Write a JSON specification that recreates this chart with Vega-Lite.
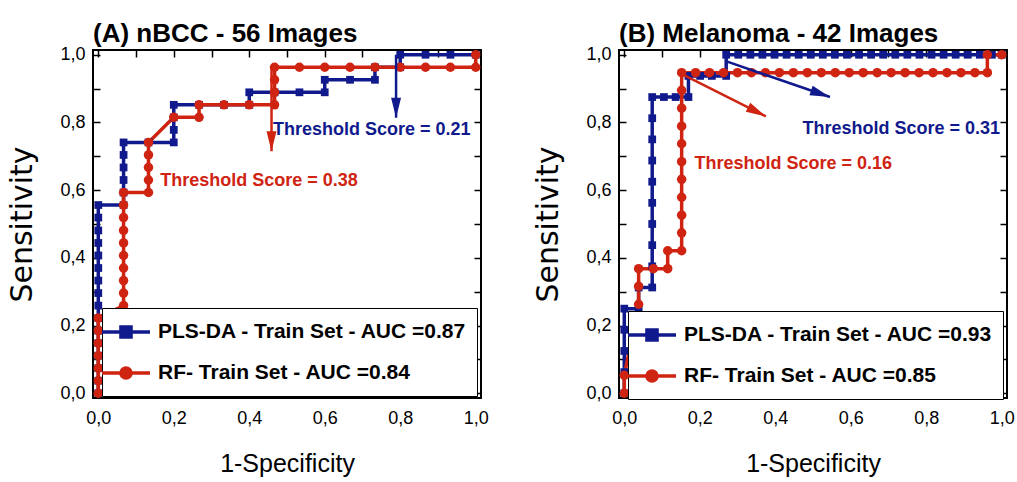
{
  "$schema": "https://vega.github.io/schema/vega-lite/v6.json",
  "padding": {"left": 6, "top": 19, "right": 5, "bottom": 0},
  "datasets": {
    "rocA": [
      {"s":"PLS-DA","i":0,"x":0,"y":0},{"s":"PLS-DA","i":1,"x":0,"y":0.037},{"s":"PLS-DA","i":2,"x":0,"y":0.074},{"s":"PLS-DA","i":3,"x":0,"y":0.111},{"s":"PLS-DA","i":4,"x":0,"y":0.148},{"s":"PLS-DA","i":5,"x":0,"y":0.185},{"s":"PLS-DA","i":6,"x":0,"y":0.222},{"s":"PLS-DA","i":7,"x":0,"y":0.259},{"s":"PLS-DA","i":8,"x":0,"y":0.296},{"s":"PLS-DA","i":9,"x":0,"y":0.333},{"s":"PLS-DA","i":10,"x":0,"y":0.37},{"s":"PLS-DA","i":11,"x":0,"y":0.407},{"s":"PLS-DA","i":12,"x":0,"y":0.444},{"s":"PLS-DA","i":13,"x":0,"y":0.481},{"s":"PLS-DA","i":14,"x":0,"y":0.519},{"s":"PLS-DA","i":15,"x":0,"y":0.556},{"s":"PLS-DA","i":16,"x":0.067,"y":0.556},{"s":"PLS-DA","i":17,"x":0.067,"y":0.593},{"s":"PLS-DA","i":18,"x":0.067,"y":0.63},{"s":"PLS-DA","i":19,"x":0.067,"y":0.667},{"s":"PLS-DA","i":20,"x":0.067,"y":0.704},{"s":"PLS-DA","i":21,"x":0.067,"y":0.741},{"s":"PLS-DA","i":22,"x":0.133,"y":0.741},{"s":"PLS-DA","i":23,"x":0.2,"y":0.741},{"s":"PLS-DA","i":24,"x":0.2,"y":0.778},{"s":"PLS-DA","i":25,"x":0.2,"y":0.815},{"s":"PLS-DA","i":26,"x":0.2,"y":0.852},{"s":"PLS-DA","i":27,"x":0.267,"y":0.852},{"s":"PLS-DA","i":28,"x":0.333,"y":0.852},{"s":"PLS-DA","i":29,"x":0.4,"y":0.852},{"s":"PLS-DA","i":30,"x":0.4,"y":0.889},{"s":"PLS-DA","i":31,"x":0.467,"y":0.889},{"s":"PLS-DA","i":32,"x":0.533,"y":0.889},{"s":"PLS-DA","i":33,"x":0.6,"y":0.889},{"s":"PLS-DA","i":34,"x":0.6,"y":0.926},{"s":"PLS-DA","i":35,"x":0.667,"y":0.926},{"s":"PLS-DA","i":36,"x":0.733,"y":0.926},{"s":"PLS-DA","i":37,"x":0.733,"y":0.963},{"s":"PLS-DA","i":38,"x":0.8,"y":0.963},{"s":"PLS-DA","i":39,"x":0.8,"y":1},{"s":"PLS-DA","i":40,"x":0.867,"y":1},{"s":"PLS-DA","i":41,"x":0.933,"y":1},{"s":"PLS-DA","i":42,"x":1,"y":1},
      {"s":"RF","i":0,"x":0,"y":0},{"s":"RF","i":1,"x":0,"y":0.037},{"s":"RF","i":2,"x":0,"y":0.074},{"s":"RF","i":3,"x":0,"y":0.111},{"s":"RF","i":4,"x":0,"y":0.148},{"s":"RF","i":5,"x":0,"y":0.185},{"s":"RF","i":6,"x":0,"y":0.222},{"s":"RF","i":7,"x":0.067,"y":0.259},{"s":"RF","i":8,"x":0.067,"y":0.296},{"s":"RF","i":9,"x":0.067,"y":0.333},{"s":"RF","i":10,"x":0.067,"y":0.37},{"s":"RF","i":11,"x":0.067,"y":0.407},{"s":"RF","i":12,"x":0.067,"y":0.444},{"s":"RF","i":13,"x":0.067,"y":0.481},{"s":"RF","i":14,"x":0.067,"y":0.519},{"s":"RF","i":15,"x":0.067,"y":0.556},{"s":"RF","i":16,"x":0.067,"y":0.593},{"s":"RF","i":17,"x":0.133,"y":0.593},{"s":"RF","i":18,"x":0.133,"y":0.63},{"s":"RF","i":19,"x":0.133,"y":0.667},{"s":"RF","i":20,"x":0.133,"y":0.704},{"s":"RF","i":21,"x":0.133,"y":0.741},{"s":"RF","i":22,"x":0.2,"y":0.815},{"s":"RF","i":23,"x":0.267,"y":0.815},{"s":"RF","i":24,"x":0.267,"y":0.852},{"s":"RF","i":25,"x":0.333,"y":0.852},{"s":"RF","i":26,"x":0.4,"y":0.852},{"s":"RF","i":27,"x":0.467,"y":0.852},{"s":"RF","i":28,"x":0.467,"y":0.889},{"s":"RF","i":29,"x":0.467,"y":0.926},{"s":"RF","i":30,"x":0.467,"y":0.963},{"s":"RF","i":31,"x":0.533,"y":0.963},{"s":"RF","i":32,"x":0.6,"y":0.963},{"s":"RF","i":33,"x":0.667,"y":0.963},{"s":"RF","i":34,"x":0.733,"y":0.963},{"s":"RF","i":35,"x":0.8,"y":0.963},{"s":"RF","i":36,"x":0.867,"y":0.963},{"s":"RF","i":37,"x":0.933,"y":0.963},{"s":"RF","i":38,"x":1,"y":0.963},{"s":"RF","i":39,"x":1,"y":1}
    ],
    "rocB": [
      {"s":"PLS-DA","i":0,"x":0,"y":0},{"s":"PLS-DA","i":1,"x":0,"y":0.0625},{"s":"PLS-DA","i":2,"x":0,"y":0.125},{"s":"PLS-DA","i":3,"x":0,"y":0.1875},{"s":"PLS-DA","i":4,"x":0,"y":0.25},{"s":"PLS-DA","i":5,"x":0.038,"y":0.25},{"s":"PLS-DA","i":6,"x":0.038,"y":0.3125},{"s":"PLS-DA","i":7,"x":0.074,"y":0.3125},{"s":"PLS-DA","i":8,"x":0.074,"y":0.375},{"s":"PLS-DA","i":9,"x":0.074,"y":0.4375},{"s":"PLS-DA","i":10,"x":0.074,"y":0.5},{"s":"PLS-DA","i":11,"x":0.074,"y":0.5625},{"s":"PLS-DA","i":12,"x":0.074,"y":0.625},{"s":"PLS-DA","i":13,"x":0.074,"y":0.6875},{"s":"PLS-DA","i":14,"x":0.074,"y":0.75},{"s":"PLS-DA","i":15,"x":0.074,"y":0.8125},{"s":"PLS-DA","i":16,"x":0.074,"y":0.875},{"s":"PLS-DA","i":17,"x":0.105,"y":0.875},{"s":"PLS-DA","i":18,"x":0.136,"y":0.875},{"s":"PLS-DA","i":19,"x":0.17,"y":0.875},{"s":"PLS-DA","i":20,"x":0.17,"y":0.9375},{"s":"PLS-DA","i":21,"x":0.201,"y":0.9375},{"s":"PLS-DA","i":22,"x":0.232,"y":0.9375},{"s":"PLS-DA","i":23,"x":0.27,"y":0.9375},{"s":"PLS-DA","i":24,"x":0.27,"y":1},{"s":"PLS-DA","i":25,"x":0.302,"y":1},{"s":"PLS-DA","i":26,"x":0.334,"y":1},{"s":"PLS-DA","i":27,"x":0.366,"y":1},{"s":"PLS-DA","i":28,"x":0.398,"y":1},{"s":"PLS-DA","i":29,"x":0.43,"y":1},{"s":"PLS-DA","i":30,"x":0.462,"y":1},{"s":"PLS-DA","i":31,"x":0.494,"y":1},{"s":"PLS-DA","i":32,"x":0.526,"y":1},{"s":"PLS-DA","i":33,"x":0.558,"y":1},{"s":"PLS-DA","i":34,"x":0.59,"y":1},{"s":"PLS-DA","i":35,"x":0.622,"y":1},{"s":"PLS-DA","i":36,"x":0.654,"y":1},{"s":"PLS-DA","i":37,"x":0.686,"y":1},{"s":"PLS-DA","i":38,"x":0.718,"y":1},{"s":"PLS-DA","i":39,"x":0.75,"y":1},{"s":"PLS-DA","i":40,"x":0.782,"y":1},{"s":"PLS-DA","i":41,"x":0.814,"y":1},{"s":"PLS-DA","i":42,"x":0.846,"y":1},{"s":"PLS-DA","i":43,"x":0.878,"y":1},{"s":"PLS-DA","i":44,"x":0.91,"y":1},{"s":"PLS-DA","i":45,"x":0.942,"y":1},{"s":"PLS-DA","i":46,"x":0.974,"y":1},{"s":"PLS-DA","i":47,"x":1,"y":1},
      {"s":"RF","i":0,"x":0,"y":0},{"s":"RF","i":1,"x":0,"y":0.053},{"s":"RF","i":2,"x":0.038,"y":0.263},{"s":"RF","i":3,"x":0.038,"y":0.316},{"s":"RF","i":4,"x":0.038,"y":0.368},{"s":"RF","i":5,"x":0.077,"y":0.368},{"s":"RF","i":6,"x":0.115,"y":0.368},{"s":"RF","i":7,"x":0.115,"y":0.421},{"s":"RF","i":8,"x":0.152,"y":0.421},{"s":"RF","i":9,"x":0.152,"y":0.474},{"s":"RF","i":10,"x":0.152,"y":0.526},{"s":"RF","i":11,"x":0.152,"y":0.579},{"s":"RF","i":12,"x":0.152,"y":0.632},{"s":"RF","i":13,"x":0.152,"y":0.684},{"s":"RF","i":14,"x":0.152,"y":0.737},{"s":"RF","i":15,"x":0.152,"y":0.789},{"s":"RF","i":16,"x":0.152,"y":0.842},{"s":"RF","i":17,"x":0.152,"y":0.895},{"s":"RF","i":18,"x":0.152,"y":0.947},{"s":"RF","i":19,"x":0.189,"y":0.947},{"s":"RF","i":20,"x":0.226,"y":0.947},{"s":"RF","i":21,"x":0.263,"y":0.947},{"s":"RF","i":22,"x":0.3,"y":0.947},{"s":"RF","i":23,"x":0.337,"y":0.947},{"s":"RF","i":24,"x":0.374,"y":0.947},{"s":"RF","i":25,"x":0.411,"y":0.947},{"s":"RF","i":26,"x":0.448,"y":0.947},{"s":"RF","i":27,"x":0.485,"y":0.947},{"s":"RF","i":28,"x":0.522,"y":0.947},{"s":"RF","i":29,"x":0.559,"y":0.947},{"s":"RF","i":30,"x":0.596,"y":0.947},{"s":"RF","i":31,"x":0.633,"y":0.947},{"s":"RF","i":32,"x":0.67,"y":0.947},{"s":"RF","i":33,"x":0.707,"y":0.947},{"s":"RF","i":34,"x":0.744,"y":0.947},{"s":"RF","i":35,"x":0.781,"y":0.947},{"s":"RF","i":36,"x":0.818,"y":0.947},{"s":"RF","i":37,"x":0.855,"y":0.947},{"s":"RF","i":38,"x":0.892,"y":0.947},{"s":"RF","i":39,"x":0.929,"y":0.947},{"s":"RF","i":40,"x":0.962,"y":0.947},{"s":"RF","i":41,"x":0.962,"y":1},{"s":"RF","i":42,"x":1,"y":1}
    ],
    "annA": [
      {"s":"PLS-DA","x":0.789,"y":1.0,"x2":0.789,"y2":0.814},
      {"s":"RF","x":0.459,"y":0.963,"x2":0.459,"y2":0.715}
    ],
    "annB": [
      {"s":"PLS-DA","x":0.269,"y":0.981,"x2":0.545,"y2":0.875},
      {"s":"RF","x":0.158,"y":0.94,"x2":0.375,"y2":0.818}
    ],
    "txtA": [
      {"s":"PLS-DA","x":0.463,"y":0.779,"t":"Threshold Score = 0.21"},
      {"s":"RF","x":0.164,"y":0.627,"t":"Threshold Score = 0.38"}
    ],
    "txtB": [
      {"s":"PLS-DA","x":0.472,"y":0.78,"t":"Threshold Score = 0.31"},
      {"s":"RF","x":0.186,"y":0.676,"t":"Threshold Score = 0.16"}
    ]
  },
  "bounds": "flush",
  "spacing": 138,
  "resolve": {"scale": {"color": "independent"}, "legend": {"color": "independent"}},
  "hconcat": [
    {
      "width": 388, "height": 348,
      "title": {"text": "(A) nBCC - 56 Images", "anchor": "start", "frame": "group", "font": "Liberation Sans, Arial, sans-serif", "fontSize": 26, "fontWeight": "bold", "color": "black", "baseline": "alphabetic", "offset": -22},
      "layer": [
        {
          "data": {"name": "rocA"},
          "mark": {"type": "line", "strokeWidth": 3.5},
          "encoding": {
            "x": {"field": "x", "type": "quantitative", "scale": {"domain": [-0.014, 1.014], "nice": false, "zero": false}, "axis": {"orient": "bottom", "title": "1-Specificity", "values": [0,0.1,0.2,0.3,0.4,0.5,0.6,0.7,0.8,0.9,1], "labelExpr": "round(datum.value*10) % 2 == 0 ? replace(format(datum.value, '.1f'), '.', ',') : ''", "encode": {"ticks": {"update": {"y2": [{"test": "round(datum.value*10) % 2 == 1", "value": -3.5}, {"value": -6.5}]}}}}},
            "y": {"field": "y", "type": "quantitative", "scale": {"domain": [-0.014, 1.014], "nice": false, "zero": false}, "axis": {"orient": "left", "title": "Sensitivity", "values": [0,0.1,0.2,0.3,0.4,0.5,0.6,0.7,0.8,0.9,1], "labelExpr": "round(datum.value*10) % 2 == 0 ? replace(format(datum.value, '.1f'), '.', ',') : ''", "encode": {"ticks": {"update": {"x2": [{"test": "round(datum.value*10) % 2 == 1", "value": 3.5}, {"value": 6.5}]}}}}},
            "color": {"field": "s", "type": "nominal", "scale": {"domain": ["PLS-DA", "RF"], "range": ["#101a8c", "#cf2412"]},
              "legend": {"orient": "none", "legendX": 9, "legendY": 258, "title": null,
                "labelExpr": "datum.value == 'PLS-DA' ? 'PLS-DA - Train Set - AUC =0.87' : 'RF- Train Set - AUC =0.84'",
                "fillColor": "white", "strokeColor": "black", "padding": 10, "symbolSize": 576, "symbolOffset": 0, "labelOffset": 18, "rowPadding": 14,
                "labelFont": "Liberation Sans, Arial, sans-serif", "labelFontSize": 21, "labelFontWeight": "bold", "labelColor": "black", "labelLimit": 500, "labelBaseline": "middle",
                "encode": {"symbols": {"update": {
                  "shape": [{"test": "datum.value == 'PLS-DA'", "value": "M-2,0H2M-0.42,-0.42H0.42V0.42H-0.42Z"}, {"value": "M-2,0H2M0.42,0A0.42,0.42,0,1,1,-0.42,0A0.42,0.42,0,1,1,0.42,0Z"}],
                  "fill": [{"test": "datum.value == 'PLS-DA'", "value": "#101a8c"}, {"value": "#cf2412"}],
                  "stroke": [{"test": "datum.value == 'PLS-DA'", "value": "#101a8c"}, {"value": "#cf2412"}],
                  "strokeWidth": {"value": 3.5}, "opacity": {"value": 1}, "fillOpacity": {"value": 1}, "strokeOpacity": {"value": 1}
                }}}
              }},
            "order": {"field": "i", "type": "quantitative"}
          }
        },
        {
          "data": {"name": "rocA"},
          "transform": [{"filter": "datum.s == 'PLS-DA'"}],
          "mark": {"type": "point", "shape": "square", "filled": true, "size": 60, "opacity": 1},
          "encoding": {
            "x": {"field": "x", "type": "quantitative", "scale": {"domain": [-0.014, 1.014], "nice": false, "zero": false}, "axis": {"orient": "top", "labels": false, "labelPadding": 0, "title": null, "values": [0,0.1,0.2,0.3,0.4,0.5,0.6,0.7,0.8,0.9,1], "encode": {"ticks": {"update": {"y2": [{"test": "round(datum.value*10) % 2 == 1", "value": 3.5}, {"value": 6.5}]}}}}},
            "y": {"field": "y", "type": "quantitative", "scale": {"domain": [-0.014, 1.014], "nice": false, "zero": false}, "axis": {"orient": "right", "labels": false, "labelPadding": 0, "title": null, "values": [0,0.1,0.2,0.3,0.4,0.5,0.6,0.7,0.8,0.9,1], "encode": {"ticks": {"update": {"x2": [{"test": "round(datum.value*10) % 2 == 1", "value": -3.5}, {"value": -6.5}]}}}}},
            "color": {"field": "s", "type": "nominal"}
          }
        },
        {
          "data": {"name": "rocA"},
          "transform": [{"filter": "datum.s == 'RF'"}],
          "mark": {"type": "point", "shape": "circle", "filled": true, "size": 90, "opacity": 1},
          "encoding": {
            "x": {"field": "x", "type": "quantitative", "scale": {"domain": [-0.014, 1.014], "nice": false, "zero": false}, "axis": null},
            "y": {"field": "y", "type": "quantitative", "scale": {"domain": [-0.014, 1.014], "nice": false, "zero": false}, "axis": null},
            "color": {"field": "s", "type": "nominal"}
          }
        },
        {
          "data": {"name": "annA"},
          "mark": {"type": "rule", "strokeWidth": 2.5},
          "encoding": {
            "x": {"field": "x", "type": "quantitative", "scale": {"domain": [-0.014, 1.014], "nice": false, "zero": false}, "axis": null},
            "y": {"field": "y", "type": "quantitative", "scale": {"domain": [-0.014, 1.014], "nice": false, "zero": false}, "axis": null},
            "x2": {"field": "x2"}, "y2": {"field": "y2"},
            "color": {"field": "s", "type": "nominal"}
          }
        },
        {
          "data": {"name": "annA"},
          "mark": {"type": "point", "shape": "M0,0L-2,-0.5L-2,0.5Z", "filled": true, "size": 400, "angle": 90, "opacity": 1},
          "encoding": {
            "x": {"field": "x2", "type": "quantitative", "scale": {"domain": [-0.014, 1.014], "nice": false, "zero": false}, "axis": null},
            "y": {"field": "y2", "type": "quantitative", "scale": {"domain": [-0.014, 1.014], "nice": false, "zero": false}, "axis": null},
            "color": {"field": "s", "type": "nominal"}
          }
        },
        {
          "data": {"name": "txtA"},
          "mark": {"type": "text", "align": "left", "baseline": "middle", "font": "Liberation Sans, Arial, sans-serif", "fontSize": 18, "fontWeight": "bold"},
          "encoding": {
            "x": {"field": "x", "type": "quantitative", "scale": {"domain": [-0.014, 1.014], "nice": false, "zero": false}, "axis": null},
            "y": {"field": "y", "type": "quantitative", "scale": {"domain": [-0.014, 1.014], "nice": false, "zero": false}, "axis": null},
            "text": {"field": "t"},
            "color": {"field": "s", "type": "nominal"}
          }
        }
      ],
      "resolve": {"axis": {"x": "independent", "y": "independent"}}
    },
    {
      "width": 388, "height": 348,
      "title": {"text": "(B) Melanoma - 42 Images", "anchor": "start", "frame": "group", "font": "Liberation Sans, Arial, sans-serif", "fontSize": 26, "fontWeight": "bold", "color": "black", "baseline": "alphabetic", "offset": -22},
      "layer": [
        {
          "data": {"name": "rocB"},
          "mark": {"type": "line", "strokeWidth": 3.5},
          "encoding": {
            "x": {"field": "x", "type": "quantitative", "scale": {"domain": [-0.014, 1.014], "nice": false, "zero": false}, "axis": {"orient": "bottom", "title": "1-Specificity", "values": [0,0.1,0.2,0.3,0.4,0.5,0.6,0.7,0.8,0.9,1], "labelExpr": "round(datum.value*10) % 2 == 0 ? replace(format(datum.value, '.1f'), '.', ',') : ''", "encode": {"ticks": {"update": {"y2": [{"test": "round(datum.value*10) % 2 == 1", "value": -3.5}, {"value": -6.5}]}}}}},
            "y": {"field": "y", "type": "quantitative", "scale": {"domain": [-0.014, 1.014], "nice": false, "zero": false}, "axis": {"orient": "left", "title": "Sensitivity", "values": [0,0.1,0.2,0.3,0.4,0.5,0.6,0.7,0.8,0.9,1], "labelExpr": "round(datum.value*10) % 2 == 0 ? replace(format(datum.value, '.1f'), '.', ',') : ''", "encode": {"ticks": {"update": {"x2": [{"test": "round(datum.value*10) % 2 == 1", "value": 3.5}, {"value": 6.5}]}}}}},
            "color": {"field": "s", "type": "nominal", "scale": {"domain": ["PLS-DA", "RF"], "range": ["#101a8c", "#cf2412"]},
              "legend": {"orient": "none", "legendX": 9, "legendY": 261, "title": null,
                "labelExpr": "datum.value == 'PLS-DA' ? 'PLS-DA - Train Set - AUC =0.93' : 'RF- Train Set - AUC =0.85'",
                "fillColor": "white", "strokeColor": "black", "padding": 10, "symbolSize": 576, "symbolOffset": 0, "labelOffset": 18, "rowPadding": 14,
                "labelFont": "Liberation Sans, Arial, sans-serif", "labelFontSize": 21, "labelFontWeight": "bold", "labelColor": "black", "labelLimit": 500, "labelBaseline": "middle",
                "encode": {"symbols": {"update": {
                  "shape": [{"test": "datum.value == 'PLS-DA'", "value": "M-2,0H2M-0.42,-0.42H0.42V0.42H-0.42Z"}, {"value": "M-2,0H2M0.42,0A0.42,0.42,0,1,1,-0.42,0A0.42,0.42,0,1,1,0.42,0Z"}],
                  "fill": [{"test": "datum.value == 'PLS-DA'", "value": "#101a8c"}, {"value": "#cf2412"}],
                  "stroke": [{"test": "datum.value == 'PLS-DA'", "value": "#101a8c"}, {"value": "#cf2412"}],
                  "strokeWidth": {"value": 3.5}, "opacity": {"value": 1}, "fillOpacity": {"value": 1}, "strokeOpacity": {"value": 1}
                }}}
              }},
            "order": {"field": "i", "type": "quantitative"}
          }
        },
        {
          "data": {"name": "rocB"},
          "transform": [{"filter": "datum.s == 'PLS-DA'"}],
          "mark": {"type": "point", "shape": "square", "filled": true, "size": 60, "opacity": 1},
          "encoding": {
            "x": {"field": "x", "type": "quantitative", "scale": {"domain": [-0.014, 1.014], "nice": false, "zero": false}, "axis": {"orient": "top", "labels": false, "labelPadding": 0, "title": null, "values": [0,0.1,0.2,0.3,0.4,0.5,0.6,0.7,0.8,0.9,1], "encode": {"ticks": {"update": {"y2": [{"test": "round(datum.value*10) % 2 == 1", "value": 3.5}, {"value": 6.5}]}}}}},
            "y": {"field": "y", "type": "quantitative", "scale": {"domain": [-0.014, 1.014], "nice": false, "zero": false}, "axis": {"orient": "right", "labels": false, "labelPadding": 0, "title": null, "values": [0,0.1,0.2,0.3,0.4,0.5,0.6,0.7,0.8,0.9,1], "encode": {"ticks": {"update": {"x2": [{"test": "round(datum.value*10) % 2 == 1", "value": -3.5}, {"value": -6.5}]}}}}},
            "color": {"field": "s", "type": "nominal"}
          }
        },
        {
          "data": {"name": "rocB"},
          "transform": [{"filter": "datum.s == 'RF'"}],
          "mark": {"type": "point", "shape": "circle", "filled": true, "size": 90, "opacity": 1},
          "encoding": {
            "x": {"field": "x", "type": "quantitative", "scale": {"domain": [-0.014, 1.014], "nice": false, "zero": false}, "axis": null},
            "y": {"field": "y", "type": "quantitative", "scale": {"domain": [-0.014, 1.014], "nice": false, "zero": false}, "axis": null},
            "color": {"field": "s", "type": "nominal"}
          }
        },
        {
          "data": {"name": "annB"},
          "mark": {"type": "rule", "strokeWidth": 2.5},
          "encoding": {
            "x": {"field": "x", "type": "quantitative", "scale": {"domain": [-0.014, 1.014], "nice": false, "zero": false}, "axis": null},
            "y": {"field": "y", "type": "quantitative", "scale": {"domain": [-0.014, 1.014], "nice": false, "zero": false}, "axis": null},
            "x2": {"field": "x2"}, "y2": {"field": "y2"},
            "color": {"field": "s", "type": "nominal"}
          }
        },
        {
          "data": {"name": "annB"},
          "transform": [{"filter": "datum.s == 'PLS-DA'"}],
          "mark": {"type": "point", "shape": "M0,0L-2,-0.5L-2,0.5Z", "filled": true, "size": 400, "angle": 19, "opacity": 1},
          "encoding": {
            "x": {"field": "x2", "type": "quantitative", "scale": {"domain": [-0.014, 1.014], "nice": false, "zero": false}, "axis": null},
            "y": {"field": "y2", "type": "quantitative", "scale": {"domain": [-0.014, 1.014], "nice": false, "zero": false}, "axis": null},
            "color": {"field": "s", "type": "nominal"}
          }
        },
        {
          "data": {"name": "annB"},
          "transform": [{"filter": "datum.s == 'RF'"}],
          "mark": {"type": "point", "shape": "M0,0L-2,-0.5L-2,0.5Z", "filled": true, "size": 400, "angle": 27, "opacity": 1},
          "encoding": {
            "x": {"field": "x2", "type": "quantitative", "scale": {"domain": [-0.014, 1.014], "nice": false, "zero": false}, "axis": null},
            "y": {"field": "y2", "type": "quantitative", "scale": {"domain": [-0.014, 1.014], "nice": false, "zero": false}, "axis": null},
            "color": {"field": "s", "type": "nominal"}
          }
        },
        {
          "data": {"name": "txtB"},
          "mark": {"type": "text", "align": "left", "baseline": "middle", "font": "Liberation Sans, Arial, sans-serif", "fontSize": 18, "fontWeight": "bold"},
          "encoding": {
            "x": {"field": "x", "type": "quantitative", "scale": {"domain": [-0.014, 1.014], "nice": false, "zero": false}, "axis": null},
            "y": {"field": "y", "type": "quantitative", "scale": {"domain": [-0.014, 1.014], "nice": false, "zero": false}, "axis": null},
            "text": {"field": "t"},
            "color": {"field": "s", "type": "nominal"}
          }
        }
      ],
      "resolve": {"axis": {"x": "independent", "y": "independent"}}
    }
  ],
  "config": {
    "view": {"stroke": "black", "strokeWidth": 2},
    "axis": {"domain": false, "grid": false, "ticks": true, "tickColor": "black", "tickWidth": 1.5, "tickSize": -7, "labelFont": "Liberation Sans, Arial, sans-serif", "labelFontSize": 18, "labelColor": "black", "labelFlush": false, "labelOverlap": false, "titleColor": "black", "titleFontWeight": "normal"},
    "axisX": {"titleFont": "Liberation Sans, Arial, sans-serif", "titleFontSize": 25, "titlePadding": 24, "labelPadding": 18},
    "axisY": {"titleFont": "DejaVu Sans", "titleFontSize": 30, "titlePadding": 22, "labelPadding": 15}
  }
}
